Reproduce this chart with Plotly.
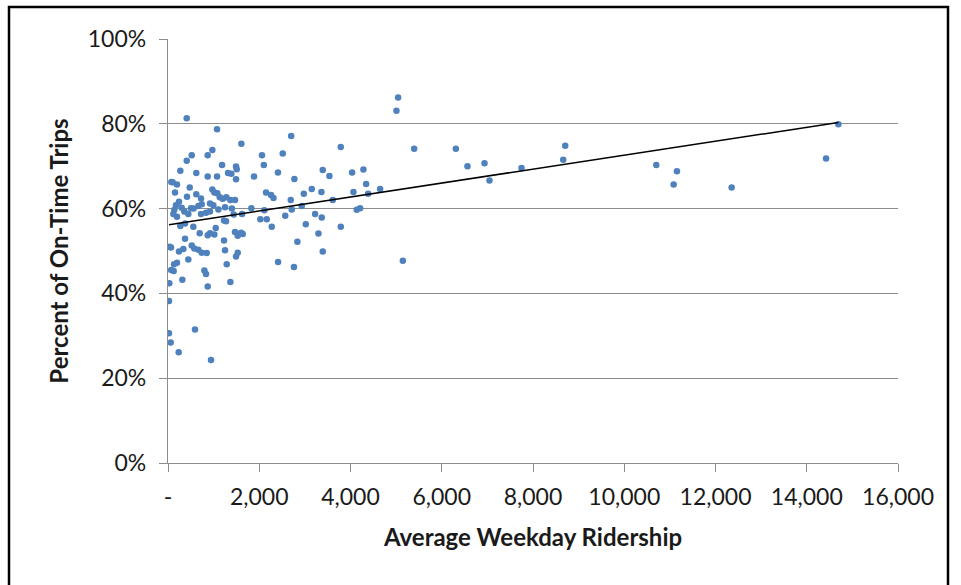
import numpy as np
import plotly.graph_objects as go

# Average weekday ridership per route and percent of on-time trips
ridership = [
    410, 1075, 1608, 2060, 2515, 2100, 2410, 1885, 410, 520, 870, 972, 270, 620, 870, 1075,
    1185, 1316, 1389, 1491, 1506, 1491, 73, 197, 154, 476, 620, 417, 724, 972, 1016, 1081,
    1134, 1199, 1279, 1367, 1469, 1827, 2112, 2313, 2259, 2149,
    175, 241, 139, 117, 197, 358, 445, 504, 665, 724, 833, 921, 994, 1104, 1228, 1272,
    1440, 1623, 2024, 2164, 2274, 2570,
    555, 373, 270, 695, 870, 921, 1016, 1046, 1469, 1528, 1601, 1638, 373, 1228, 37, 66,
    241, 336, 520, 577, 665, 739, 848, 445, 1250, 1491, 1528, 1287, 197, 132, 66, 124,
    797, 833, 314, 29, 1367, 870, 2412, 22, 592, 22, 59, 234, 943,
    102, 739, 921, 2700, 2770, 2690, 2760, 300, 560, 1250, 1400,
    3787, 5395, 3392, 3538, 4035, 4283, 4342, 3151, 2976, 3363, 4064, 4386, 4649, 3611,
    2932, 2712, 4137, 4210, 3224, 3370, 3020, 3787, 3297, 2836, 3392, 5147,
    5044, 5007, 6309, 6564,
    6937, 7046, 7748, 8706, 8662, 10702, 11155, 11082, 12354, 14423, 14693,
]
on_time_pct = [
    81.3, 78.7, 75.3, 72.6, 73.0, 70.3, 68.5, 67.6, 71.3, 72.6, 72.6, 73.8, 68.9, 68.4, 67.6, 67.6,
    70.3, 68.4, 68.2, 69.9, 69.3, 66.9, 66.3, 65.7, 63.8, 65.0, 63.4, 62.8, 62.4, 64.5, 63.8, 63.6,
    62.7, 62.3, 62.7, 62.0, 62.0, 60.1, 59.6, 62.5, 63.2, 63.8,
    60.8, 61.6, 59.7, 58.7, 58.1, 59.3, 58.7, 60.1, 60.6, 58.7, 59.0, 59.3, 60.8, 59.8, 57.2, 57.0,
    58.6, 58.7, 57.5, 57.5, 55.7, 58.3,
    55.7, 56.5, 55.9, 54.2, 53.7, 54.2, 53.9, 55.4, 54.5, 53.6, 54.3, 54.0, 52.9, 52.5, 51.0, 50.8,
    49.9, 50.5, 51.3, 50.6, 50.3, 49.6, 49.5, 48.0, 50.2, 48.7, 49.6, 46.9, 47.2, 46.9, 45.5, 45.3,
    45.4, 44.6, 43.2, 42.4, 42.7, 41.6, 47.4, 38.2, 31.5, 30.6, 28.4, 26.1, 24.3,
    66.2, 61.0, 61.2, 77.1, 67.0, 62.0, 46.2, 60.2, 60.0, 60.3, 60.0,
    74.5, 74.1, 69.1, 67.7, 68.5, 69.2, 65.8, 64.6, 63.5, 63.9, 63.9, 63.5, 64.6, 62.0,
    60.6, 59.8, 59.7, 60.1, 58.7, 57.9, 56.3, 55.7, 54.1, 52.2, 49.9, 47.7,
    86.2, 83.1, 74.1, 70.0,
    70.7, 66.6, 69.6, 74.8, 71.5, 70.3, 68.8, 65.7, 65.0, 71.8, 79.9,
]

x_ticks = [0, 2000, 4000, 6000, 8000, 10000, 12000, 14000, 16000]
x_tick_labels = ["-", "2,000", "4,000", "6,000", "8,000", "10,000", "12,000", "14,000", "16,000"]
y_ticks = [0, 20, 40, 60, 80, 100]
y_tick_labels = ["0%", "20%", "40%", "60%", "80%", "100%"]

# Linear trend line over the range of the data
xs = np.array(ridership, dtype=float)
ys = np.array(on_time_pct, dtype=float)
slope, intercept = np.polyfit(xs, ys, 1)
trend_x = [xs.min(), xs.max()]
trend_y = [intercept + slope * v for v in trend_x]

FONT = "Lato, 'Liberation Sans', sans-serif"
GRID = "#8c8c8c"

fig = go.Figure()
fig.add_trace(go.Scatter(
    x=ridership, y=on_time_pct, mode="markers",
    marker=dict(size=6.5, color="#4f81bd"),
    showlegend=False, hoverinfo="x+y",
))
fig.add_trace(go.Scatter(
    x=trend_x, y=trend_y, mode="lines",
    line=dict(color="#000000", width=1.5),
    showlegend=False, hoverinfo="skip",
))

# Plot area edges in pixels, used for the outer frame
L, R, T, B = 168, 898, 39, 463
W, H = 961, 585


def px_x(p):
    return (p - L) / (R - L)


def px_y(p):
    return (B - p) / (B - T)


fig.add_shape(type="rect", xref="paper", yref="paper",
              x0=px_x(9), x1=px_x(948), y0=px_y(600), y1=px_y(7),
              line=dict(color="#000000", width=2.5), layer="above")

fig.update_layout(
    width=W, height=H,
    margin=dict(l=L, r=W - R, t=T, b=H - B),
    paper_bgcolor="white", plot_bgcolor="white",
    font=dict(family=FONT, color="#1a1a1a", size=23),
    xaxis=dict(
        range=[0, 16000], tickvals=x_ticks, ticktext=x_tick_labels,
        showgrid=False, zeroline=False,
        showline=True, linecolor=GRID, linewidth=1.3,
        ticks="outside", ticklen=8, tickcolor=GRID, tickwidth=1.3,
        tickfont=dict(size=23), ticklabelstandoff=5,
        title=dict(text="<b>Average Weekday Ridership</b>", font=dict(size=24), standoff=20),
    ),
    yaxis=dict(
        range=[0, 100], tickvals=y_ticks, ticktext=y_tick_labels,
        showgrid=True, gridcolor=GRID, gridwidth=1.3, zeroline=False,
        showline=True, linecolor=GRID, linewidth=1.3,
        ticks="outside", ticklen=8, tickcolor=GRID, tickwidth=1.3,
        tickfont=dict(size=23), ticklabelstandoff=8,
        title=dict(text="<b>Percent of On-Time Trips</b>", font=dict(size=24), standoff=12),
    ),
)

fig.write_html("out.html")
